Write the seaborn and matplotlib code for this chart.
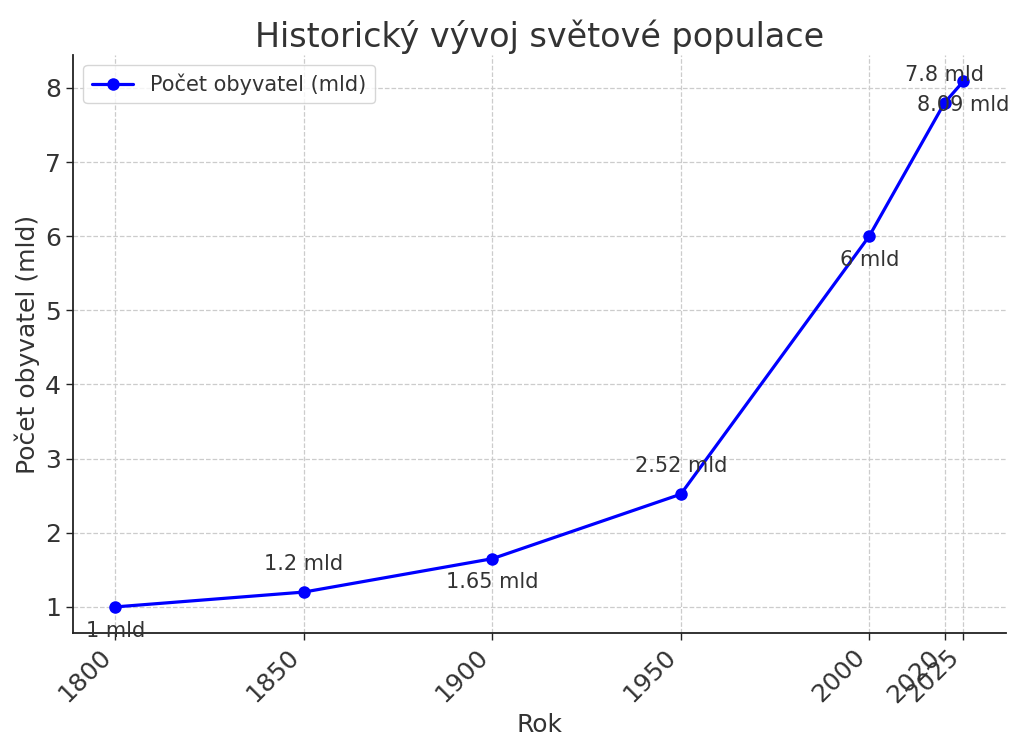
import matplotlib
matplotlib.use("Agg")
import matplotlib.pyplot as plt
import seaborn as sns
import pandas as pd

years = [1800, 1850, 1900, 1950, 2000, 2020, 2025]
population = [1, 1.2, 1.65, 2.52, 6, 7.8, 8.09]
labels = ["1 mld", "1.2 mld", "1.65 mld", "2.52 mld", "6 mld", "7.8 mld", "8.09 mld"]

sns.set_style("whitegrid", {"grid.linestyle": "--", "grid.color": "#cccccc",
                            "axes.edgecolor": "#222222", "xtick.bottom": True, "ytick.left": True})
plt.rcParams['font.family'] = ['DejaVu Sans']
plt.rcParams['text.color'] = '#333333'
plt.rcParams['axes.labelcolor'] = '#333333'

df = pd.DataFrame({"Rok": years, "Pop": population})

fig = plt.figure(figsize=(10.24, 7.52), dpi=100)
ax = fig.add_axes([0.0713, 0.158, 0.911, 0.769])
sns.lineplot(data=df, x="Rok", y="Pop", marker="o", color="#0000ff", linewidth=2.3,
             markersize=9, markeredgewidth=0, label="Počet obyvatel (mld)", ax=ax)

for i, (x, y, t) in enumerate(zip(years, population, labels)):
    dy = 20 if i % 2 == 1 else -17
    ax.annotate(t, (x, y), textcoords="offset points", xytext=(0, dy),
                ha="center", va="center", fontsize=15, color="#333333")

ax.set_xticks(years)
ax.set_xticklabels([str(y) for y in years], rotation=45, ha="right")
ax.tick_params(axis="both", labelsize=18, colors="#222222", labelcolor="#333333", length=5, width=1)
ax.set_title("Historický vývoj světové populace", fontsize=24, color="#333333")
ax.set_xlabel("Rok", fontsize=18)
ax.set_ylabel("Počet obyvatel (mld)", fontsize=18)
for s in ["top", "right"]:
    ax.spines[s].set_visible(False)
for s in ["left", "bottom"]:
    ax.spines[s].set_linewidth(1.3)
ax.grid(True, linestyle="--", color="#cccccc", linewidth=0.9)
leg = ax.legend(loc="upper left", fontsize=15)
leg.get_frame().set_edgecolor("#cccccc")

fig.savefig("out.png", dpi=100)
